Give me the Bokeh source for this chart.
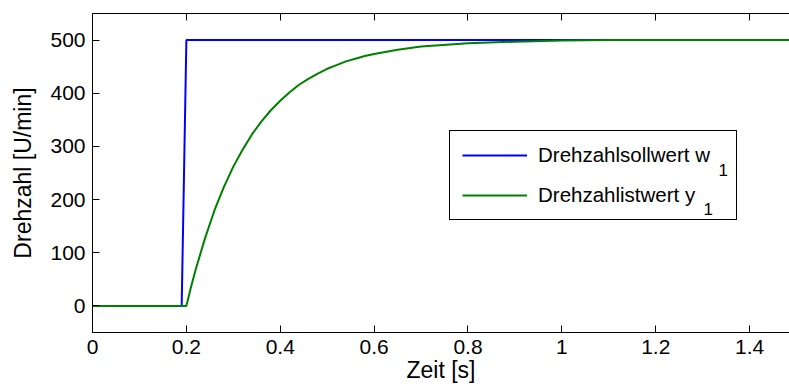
from bokeh.plotting import figure
from bokeh.models import (Range1d, FixedTicker, LinearAxis, Legend, LegendItem, Label)
from bokeh.embed import file_html
from bokeh.resources import INLINE

# --- data ---
t_soll = [0.0, 0.19, 0.2, 1.5]
w_soll = [0, 0, 500, 500]

t_ist = [0.0, 0.2, 0.21, 0.22, 0.24, 0.26, 0.28, 0.30, 0.32, 0.34, 0.36, 0.38,
         0.40, 0.42, 0.44, 0.46, 0.48, 0.50, 0.52, 0.54, 0.56, 0.58, 0.60,
         0.65, 0.70, 0.80, 0.90, 1.00, 1.10, 1.20, 1.50]
y_ist = [0, 0, 36, 69, 128, 180, 224, 262, 294, 323, 347, 368,
         386, 402, 416, 427, 437, 446, 453, 460, 465, 470, 474,
         482, 488, 494, 497, 499, 500, 500, 500]

x_ticks = [0, 0.2, 0.4, 0.6, 0.8, 1, 1.2, 1.4]
x_tick_labels = ["0", "0.2", "0.4", "0.6", "0.8", "1", "1.2", "1.4"]
y_ticks = [0, 100, 200, 300, 400, 500]
y_tick_labels = ["0", "100", "200", "300", "400", "500"]

legend_labels = ["Drehzahlsollwert w", "Drehzahlistwert y"]
legend_subscripts = ["1", "1"]
FONT = "Liberation Sans"

p = figure(width=789, height=392, output_backend="svg", toolbar_location=None,
           x_range=Range1d(0, 1.485), y_range=Range1d(-50, 550),
           x_axis_label="Zeit [s]", y_axis_label="Drehzahl [U/min]",
           min_border_left=92, min_border_right=0, min_border_top=13,
           min_border_bottom=60)
p.outline_line_color = None
p.grid.visible = False
p.background_fill_color = "white"
p.border_fill_color = "white"

r1 = p.line(t_soll, w_soll, line_color="#0000ff", line_width=2)
r2 = p.line(t_ist, y_ist, line_color="#008000", line_width=2)

for ax, ticks, labels in ((p.xaxis[0], x_ticks, x_tick_labels),
                          (p.yaxis[0], y_ticks, y_tick_labels)):
    ax.ticker = FixedTicker(ticks=ticks)
    ax.major_label_overrides = {t: l for t, l in zip(ticks, labels)}
    ax.minor_tick_line_color = None
    ax.major_tick_in = 7
    ax.major_tick_out = 0
    ax.axis_line_color = "black"
    ax.major_tick_line_color = "black"
    ax.major_label_text_font = FONT
    ax.major_label_text_font_size = "21px"
    ax.major_label_text_color = "black"
    ax.axis_label_text_font = FONT
    ax.axis_label_text_font_size = "23px"
    ax.axis_label_text_font_style = "normal"
    ax.axis_label_text_color = "black"

p.xaxis[0].major_label_standoff = 7
p.xaxis[0].axis_label_standoff = 0
p.yaxis[0].major_label_standoff = 7
p.yaxis[0].axis_label_standoff = 11

# top frame edge with inward ticks, no labels
top = LinearAxis(ticker=FixedTicker(ticks=x_ticks),
                 major_label_overrides={t: "" for t in x_ticks},
                 major_label_text_font_size="0px",
                 major_tick_in=7, major_tick_out=0, minor_tick_line_color=None,
                 axis_line_color="black", major_tick_line_color="black",
                 major_label_standoff=0)
p.add_layout(top, "above")

legend = Legend(items=[LegendItem(label=legend_labels[0], renderers=[r1]),
                       LegendItem(label=legend_labels[1], renderers=[r2])],
                location=(357, 112), margin=0, padding=12, spacing=16,
                glyph_width=65, glyph_height=24, label_height=24,
                label_standoff=11, label_width=186,
                label_text_font=FONT, label_text_font_size="20.5px",
                label_text_color="black", label_text_baseline="middle",
                border_line_color="black", border_line_width=1.2,
                border_line_alpha=1.0,
                background_fill_color="white", background_fill_alpha=0)
p.add_layout(legend, "center")

for (sx, sy), txt in zip(((626, 163), (611, 124)), legend_subscripts):
    p.add_layout(Label(x=sx, y=sy, x_units="screen", y_units="screen", text=txt,
                       text_font=FONT, text_font_size="17px", text_color="black",
                       text_baseline="alphabetic", level="overlay"))

open("out.html", "w").write(file_html(p, INLINE))
